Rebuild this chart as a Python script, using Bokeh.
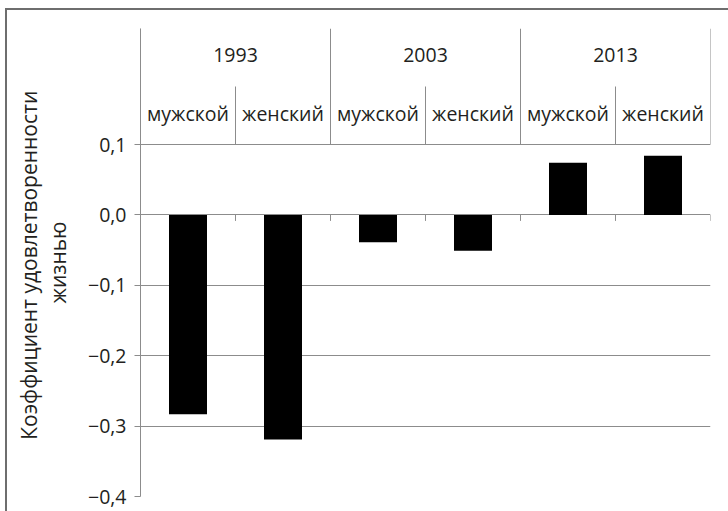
from bokeh.plotting import figure
from bokeh.models import FactorRange, Range1d, FixedTicker
from bokeh.embed import file_html
from bokeh.resources import INLINE
from bokeh.core.properties import value

# ---- data ----
years = ["1993", "2003", "2013"]
sexes = ["мужской", "женский"]
coef = [-0.283, -0.319, -0.039, -0.051, 0.074, 0.084]
y_ticks = [-0.4, -0.3, -0.2, -0.1, 0.0, 0.1]
y_tick_labels = ["−0,4", "−0,3", "−0,2", "−0,1", "0,0", "0,1"]
y_title = "Коэффициент  удовлетворенности\nжизнью"

# ---- styling constants ----
FONT_NAME = "Open Sans"
FONT = value(FONT_NAME)
TXT = "#231f20"
GRID = "#8c8c8c"
BORDER = "#6e6e6e"
Y_MIN, Y_MAX = -0.4, 0.2648
Y_HEAD_BOTTOM = 0.1
Y_SUB_TOP = 0.1824
Y_YEAR_LABEL = 0.2278
Y_SEX_LABEL = 0.144
TICK_LEN = 0.0085

factors = [(y, s) for y in years for s in sexes]

p = figure(width=728, height=511,
           x_range=FactorRange(*factors, factor_padding=0, group_padding=0,
                               subgroup_padding=0, range_padding=0),
           y_range=Range1d(Y_MIN, Y_MAX),
           x_axis_location=None,
           output_backend="svg", toolbar_location=None,
           min_border_left=140, min_border_right=18,
           min_border_top=28, min_border_bottom=15)

p.outline_line_color = None
p.background_fill_color = None
p.border_fill_color = None
p.styles = {"box-shadow": (f"inset 5px 0 0 0 white, inset 0 8px 0 0 white, "
                           f"inset 7px 0 0 0 {BORDER}, inset 0 10px 0 0 {BORDER}")}

p.xgrid.visible = False
p.ygrid.ticker = FixedTicker(ticks=y_ticks)
p.ygrid.grid_line_color = GRID
p.ygrid.grid_line_width = 1

ax = p.yaxis[0]
ax.ticker = FixedTicker(ticks=y_ticks)
ax.major_label_overrides = dict(zip(y_ticks, y_tick_labels))
ax.axis_line_color = GRID
ax.major_tick_line_color = GRID
ax.major_tick_in = 0
ax.major_tick_out = 6
ax.minor_tick_out = 0
ax.minor_tick_in = 0
ax.major_label_text_font = FONT_NAME
ax.major_label_text_font_size = "19.5px"
ax.major_label_text_color = TXT
ax.major_label_standoff = 8
ax.axis_label = y_title
ax.axis_label_text_font = FONT_NAME
ax.axis_label_text_font_size = "21px"
ax.axis_label_text_font_style = "normal"
ax.axis_label_text_color = TXT
ax.axis_label_text_align = "center"
ax.axis_label_text_line_height = 1.05
ax.axis_label_standoff = 13

# bars
p.vbar(x=factors, top=coef, bottom=0, width=0.4, fill_color="black", line_color=None)

# header separators at category boundaries (synthetic coordinates: one unit per category)
n_sub = len(sexes)
year_bounds = [i * n_sub for i in range(len(years) + 1)]
sub_bounds = [i * n_sub + j for i in range(len(years)) for j in range(1, n_sub)]
p.segment(x0=year_bounds, x1=year_bounds, y0=[Y_MAX] * len(year_bounds),
          y1=[Y_HEAD_BOTTOM] * len(year_bounds), line_color=GRID, line_width=1)
p.segment(x0=sub_bounds, x1=sub_bounds, y0=[Y_SUB_TOP] * len(sub_bounds),
          y1=[Y_HEAD_BOTTOM] * len(sub_bounds), line_color=GRID, line_width=1)
# small ticks below the zero line at category boundaries
all_bounds = list(range(1, len(factors) + 1))
p.segment(x0=all_bounds, x1=all_bounds, y0=[0] * len(all_bounds),
          y1=[-TICK_LEN] * len(all_bounds), line_color=GRID, line_width=1)

# header labels
p.text(x=years, y=[Y_YEAR_LABEL] * len(years), text=years,
       text_align="center", text_baseline="middle",
       text_font=FONT, text_font_size="19.5px", text_color=TXT)
p.text(x=factors, y=[Y_SEX_LABEL] * len(factors), text=[s for _, s in factors],
       text_align="center", text_baseline="middle",
       text_font=FONT, text_font_size="19.5px", text_color=TXT)

open("out.html", "w").write(file_html(p, INLINE))
